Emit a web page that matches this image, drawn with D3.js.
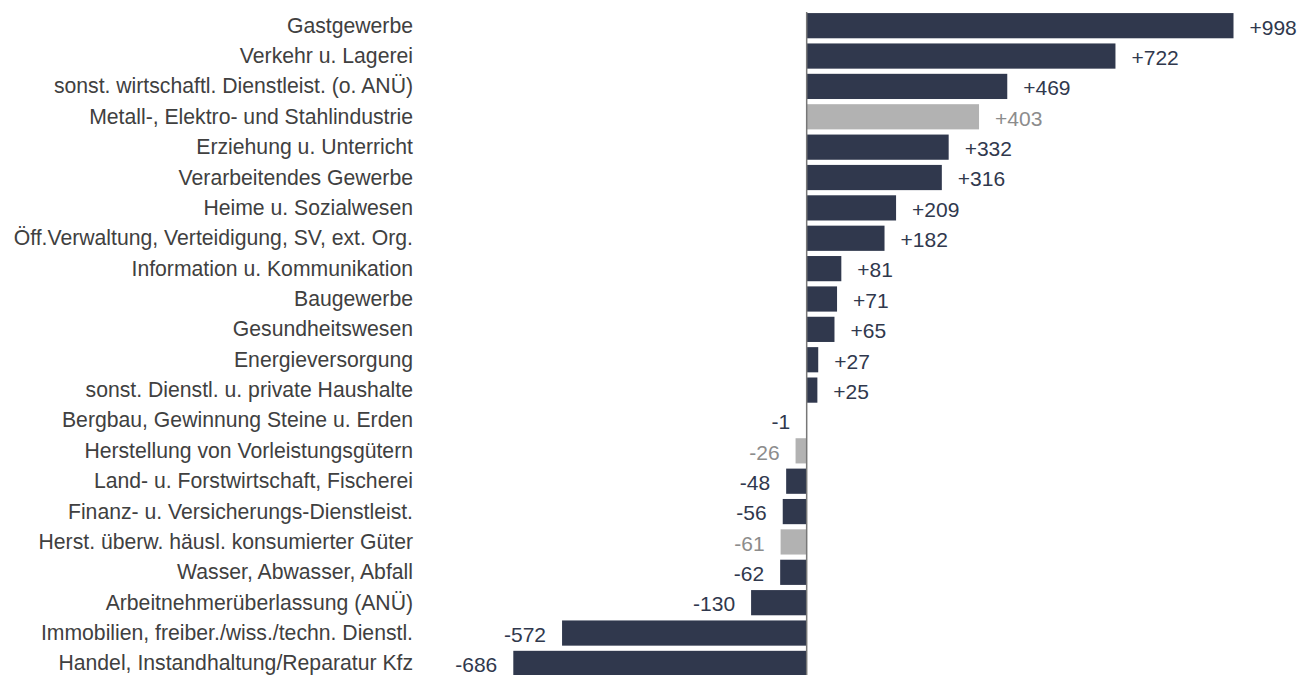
<!DOCTYPE html>
<html>
<head>
<meta charset="utf-8">
<script src="https://cdn.jsdelivr.net/npm/d3@7"></script>
<style>
  body { margin: 0; background: #fff; }
  text { font-family: "Liberation Sans", Arial, sans-serif; }
</style>
</head>
<body>
<div id="chart"></div>
<script>
// categories, top to bottom
const categories = [
    "Gastgewerbe",
    "Verkehr u. Lagerei",
    "sonst. wirtschaftl. Dienstleist. (o. ANÜ)",
    "Metall-, Elektro- und Stahlindustrie",
    "Erziehung u. Unterricht",
    "Verarbeitendes Gewerbe",
    "Heime u. Sozialwesen",
    "Öff.Verwaltung, Verteidigung, SV, ext. Org.",
    "Information u. Kommunikation",
    "Baugewerbe",
    "Gesundheitswesen",
    "Energieversorgung",
    "sonst. Dienstl. u. private Haushalte",
    "Bergbau, Gewinnung Steine u. Erden",
    "Herstellung von Vorleistungsgütern",
    "Land- u. Forstwirtschaft, Fischerei",
    "Finanz- u. Versicherungs-Dienstleist.",
    "Herst. überw. häusl. konsumierter Güter",
    "Wasser, Abwasser, Abfall",
    "Arbeitnehmerüberlassung (ANÜ)",
    "Immobilien, freiber./wiss./techn. Dienstl.",
    "Handel, Instandhaltung/Reparatur Kfz"
]
const values = [998, 722, 469, 403, 332, 316, 209, 182, 81, 71, 65, 27, 25, -1, -26, -48, -56, -61, -62, -130, -572, -686]
// sub-branches shown in grey
const subBranches = [
    "Metall-, Elektro- und Stahlindustrie",
    "Herstellung von Vorleistungsgütern",
    "Herst. überw. häusl. konsumierter Güter"
]

const data = categories.map((c, i) => ({ name: c, value: values[i], sub: subBranches.includes(c) }))

const W = 1309, H = 675

const svg = d3.select("#chart")
    .append("svg")
    .attr("width", W)
    .attr("height", H)

// x scale: zero at ~806px
const x = d3.scaleLinear()
    .domain([-686, 998])
    .range([513.3, 1233.5])

const y = d3.scaleBand()
    .domain(categories)
    .range([10.5, 678.6])
    .paddingInner(0.17)
    .paddingOuter(0.085)

const barColor = d => d.sub ? "#b2b2b2" : "#30384d"
const textColor = d => d.sub ? "#8c8c8c" : "#30384d"

svg.selectAll("rect.bar")
    .data(data)
    .enter()
    .append("rect")
    .attr("class", "bar")
    .attr("x", d => x(Math.min(0, d.value)))
    .attr("y", d => y(d.name))
    .attr("width", d => Math.abs(x(d.value) - x(0)))
    .attr("height", y.bandwidth())
    .attr("fill", barColor)

// zero line
svg.append("line")
    .attr("x1", x(0)).attr("x2", x(0))
    .attr("y1", 12).attr("y2", H)
    .attr("stroke", "#777")
    .attr("stroke-width", 1.5)

// value labels
svg.selectAll("text.val")
    .data(data)
    .enter()
    .append("text")
    .attr("class", "val")
    .attr("x", d => d.value >= 0 ? x(d.value) + 16 : x(d.value) - 16)
    .attr("y", d => y(d.name) + y.bandwidth() / 2)
    .attr("dy", "0.42em")
    .attr("text-anchor", d => d.value >= 0 ? "start" : "end")
    .attr("font-size", 21)
    .attr("fill", textColor)
    .text(d => (d.value > 0 ? "+" : "") + d.value)

// category labels
svg.selectAll("text.cat")
    .data(data)
    .enter()
    .append("text")
    .attr("class", "cat")
    .attr("x", 413)
    .attr("y", d => y(d.name) + y.bandwidth() / 2)
    .attr("dy", "0.33em")
    .attr("text-anchor", "end")
    .attr("font-size", 21.2)
    .attr("fill", "#404040")
    .text(d => d.name)
</script>
</body>
</html>
